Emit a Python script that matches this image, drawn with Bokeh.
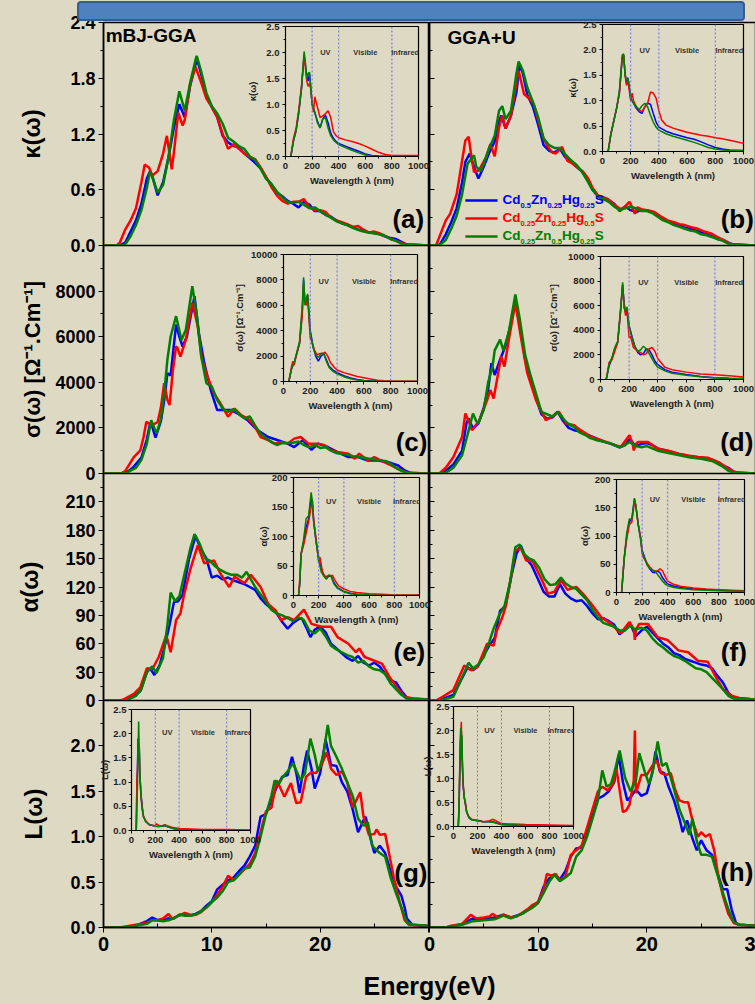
from bokeh.plotting import figure
from bokeh.models import (Range1d, LinearAxis, FixedTicker, PrintfTickFormatter,
                          Label, Span, Arrow, Div, Column)
from bokeh.embed import file_html
from bokeh.resources import INLINE

BG = "#DDD9C3"
FONT = "Liberation Sans"
BLUE, RED, GREEN = "#0000FF", "#FF0000", "#008000"

# ---------------- main panels: (energy eV, value) ----------------
# (a) kappa, mBJ-GGA
KAPPA_MBJ_BLUE = [(0,0),(1.5,0),(2.0,0.03),(2.5,0.15),(3.0,0.27),(3.5,0.45),(4.0,0.72),(4.3,0.80),(4.5,0.75),(5.0,0.54),(5.5,0.68),(6.0,0.95),(6.5,1.27),(7.0,1.52),(7.5,1.38),(8.0,1.72),(8.5,1.95),(8.7,1.98),(9.0,1.85),(9.5,1.62),(10.0,1.49),(10.5,1.38),(11.0,1.18),(11.5,1.11),(12.0,1.07),(12.5,1.06),(13.0,0.99),(13.5,0.94),(14.0,0.89),(14.5,0.83),(15.0,0.73),(15.5,0.66),(16.0,0.57),(16.5,0.53),(17.0,0.48),(17.5,0.45),(18.0,0.41),(18.5,0.47),(19.0,0.44),(19.5,0.37),(20.0,0.37),(20.5,0.33),(21.0,0.31),(21.5,0.27),(22.0,0.24),(22.5,0.22),(23.0,0.20),(23.5,0.17),(24.0,0.16),(24.5,0.14),(25.0,0.14),(25.5,0.12),(26.0,0.10),(26.5,0.08),(27.0,0.07),(27.5,0.04),(28.0,0.01),(30,0.0)]
KAPPA_MBJ_RED = [(0,0),(1.2,0),(1.5,0.03),(2.0,0.17),(2.5,0.27),(3.0,0.40),(3.5,0.68),(3.8,0.87),(4.2,0.84),(4.5,0.75),(5.0,0.80),(5.5,0.99),(5.85,1.18),(6.3,0.82),(6.5,1.00),(6.9,1.43),(7.3,1.29),(7.5,1.35),(8.0,1.74),(8.5,1.92),(9.0,1.76),(9.5,1.58),(10.0,1.49),(10.5,1.38),(11.0,1.20),(11.5,1.04),(12.0,1.09),(12.5,1.04),(13.0,0.99),(13.5,0.95),(14.0,0.93),(14.5,0.84),(15.0,0.74),(15.5,0.63),(16.0,0.54),(16.5,0.48),(17.0,0.45),(17.5,0.47),(18.0,0.47),(18.5,0.50),(19.0,0.41),(19.5,0.38),(20.0,0.38),(20.5,0.36),(21.0,0.30),(21.5,0.27),(22.0,0.25),(22.5,0.23),(23.0,0.20),(23.5,0.21),(24.0,0.17),(24.5,0.14),(25.0,0.15),(25.5,0.13),(26.0,0.10),(26.5,0.07),(27.0,0.05),(27.5,0.03),(28.0,0.01),(30,0.0)]
KAPPA_MBJ_GREEN = [(0,0),(1.8,0),(2.0,0.01),(2.5,0.10),(3.0,0.22),(3.5,0.38),(4.0,0.62),(4.3,0.80),(4.5,0.74),(5.0,0.57),(5.5,0.65),(6.0,0.95),(6.5,1.35),(7.0,1.66),(7.5,1.45),(8.0,1.75),(8.5,2.00),(8.6,2.04),(9.0,1.88),(9.5,1.64),(10.0,1.50),(10.5,1.42),(11.0,1.31),(11.5,1.16),(12.0,1.12),(12.5,1.07),(13.0,1.04),(13.5,0.96),(14.0,0.92),(14.5,0.83),(15.0,0.72),(15.5,0.66),(16.0,0.58),(16.5,0.52),(17.0,0.47),(17.5,0.46),(18.0,0.47),(18.5,0.44),(19.0,0.40),(19.5,0.41),(20.0,0.37),(20.5,0.33),(21.0,0.30),(21.5,0.26),(22.0,0.24),(22.5,0.22),(23.0,0.19),(23.5,0.17),(24.0,0.15),(24.5,0.14),(25.0,0.13),(25.5,0.12),(26.0,0.10),(26.5,0.07),(27.0,0.05),(27.5,0.02),(28.0,0.01),(30,0.0)]

# (b) kappa, GGA+U
KAPPA_U_BLUE = [(0,0),(0.8,0),(1.0,0.02),(1.5,0.12),(2.0,0.25),(2.5,0.40),(3.0,0.68),(3.3,0.90),(3.7,0.99),(4.0,0.88),(4.5,0.72),(5.0,0.85),(5.5,1.00),(6.0,1.12),(6.3,1.30),(6.6,1.40),(7.0,1.26),(7.5,1.40),(8.0,1.65),(8.3,1.95),(8.6,1.85),(9.0,1.62),(9.5,1.50),(10.0,1.30),(10.5,1.08),(11.0,1.02),(11.5,1.00),(12.0,1.04),(12.5,0.95),(13.0,0.90),(13.5,0.85),(14.0,0.80),(14.5,0.72),(15.0,0.60),(15.5,0.53),(16.0,0.50),(16.5,0.49),(17.0,0.45),(17.5,0.37),(18.0,0.42),(18.5,0.38),(19.0,0.36),(19.5,0.38),(20.0,0.38),(20.5,0.36),(21.0,0.33),(21.5,0.29),(22.0,0.26),(22.5,0.23),(23.0,0.22),(23.5,0.19),(24.0,0.18),(24.5,0.16),(25.0,0.14),(25.5,0.12),(26.0,0.10),(26.5,0.07),(27.0,0.06),(27.5,0.03),(28.0,0.01),(30,0.0)]
KAPPA_U_RED = [(0,0),(0.6,0),(1.0,0.12),(1.5,0.27),(1.9,0.34),(2.5,0.55),(2.9,0.84),(3.3,1.13),(3.6,1.17),(3.9,0.92),(4.1,0.79),(4.55,0.81),(5.2,0.95),(5.6,1.09),(6.0,0.96),(6.4,1.27),(6.7,1.40),(7.0,1.26),(7.5,1.40),(8.0,1.75),(8.2,1.88),(8.7,1.63),(9.2,1.58),(9.6,1.52),(10.0,1.35),(10.5,1.15),(10.9,1.06),(11.3,1.00),(11.6,0.99),(12.2,1.06),(12.7,0.91),(13.2,0.88),(13.6,0.84),(14.1,0.80),(14.6,0.72),(15.0,0.62),(15.5,0.54),(16.0,0.52),(16.4,0.50),(17.0,0.44),(17.6,0.39),(18.0,0.42),(18.4,0.47),(18.7,0.40),(18.9,0.34),(19.1,0.41),(19.5,0.39),(20.0,0.38),(20.7,0.36),(21.3,0.31),(21.9,0.27),(22.5,0.25),(23.0,0.23),(23.5,0.22),(24.0,0.20),(24.7,0.18),(25.3,0.15),(25.9,0.13),(26.5,0.09),(27.2,0.05),(27.8,0.01),(30,0.0)]
KAPPA_U_GREEN = [(0,0),(0.9,0),(1.0,0.01),(1.5,0.06),(2.0,0.18),(2.5,0.32),(3.0,0.55),(3.5,0.88),(4.1,0.97),(4.3,0.85),(4.7,0.80),(5.0,0.88),(5.5,1.05),(6.0,1.18),(6.4,1.45),(6.7,1.50),(7.0,1.36),(7.5,1.45),(8.0,1.85),(8.2,1.98),(8.6,1.88),(9.0,1.70),(9.5,1.55),(10.0,1.38),(10.5,1.15),(11.0,1.08),(11.5,1.05),(12.0,1.05),(12.5,0.98),(13.0,0.92),(13.5,0.87),(14.0,0.80),(14.5,0.70),(15.0,0.60),(15.5,0.53),(16.0,0.50),(16.5,0.47),(17.0,0.42),(17.5,0.38),(18.0,0.40),(18.5,0.42),(19.0,0.40),(19.5,0.37),(20.0,0.37),(20.5,0.35),(21.0,0.31),(21.5,0.27),(22.0,0.25),(22.5,0.22),(23.0,0.20),(23.5,0.18),(24.0,0.16),(24.5,0.15),(25.0,0.12),(25.5,0.11),(26.0,0.09),(26.5,0.07),(27.0,0.05),(27.5,0.02),(28.0,0.01),(30,0.0)]

# (c) sigma, mBJ-GGA
SIGMA_MBJ_BLUE = [(0,0),(1.9,0),(2.3,100),(2.8,300),(3.5,700),(4.0,1500),(4.3,2190),(4.5,2050),(4.8,1570),(5.3,2300),(5.6,3200),(5.9,4400),(6.2,4300),(6.4,5200),(6.7,6530),(7.0,6000),(7.3,5570),(7.7,6010),(8.4,7780),(8.8,6160),(9.3,4840),(9.9,3660),(10.5,2780),(11.1,2780),(11.8,2780),(12.4,2630),(13.3,2340),(14.2,1900),(15.2,1600),(16.1,1460),(17.0,1310),(17.6,1160),(18.4,1460),(19.2,1040),(19.8,1310),(20.7,1160),(21.6,940),(22.6,720),(23.5,720),(24.4,570),(25.3,570),(26.3,500),(27.2,350),(27.8,130),(28.4,20),(30,0)]
SIGMA_MBJ_RED = [(0,0),(1.6,0),(2.0,100),(2.8,720),(3.4,1015),(3.7,1600),(3.95,2260),(4.5,2120),(5.0,2260),(5.3,2900),(5.6,3960),(5.9,3220),(6.1,3000),(6.4,4500),(6.7,5570),(6.8,5540),(7.1,5130),(7.6,5870),(8.2,7490),(8.7,6460),(9.1,4990),(9.6,4250),(10.2,3510),(10.8,3070),(11.5,2490),(12.1,2850),(12.7,2560),(13.3,2410),(13.9,2120),(14.5,1600),(15.2,1460),(15.8,1310),(16.4,1380),(17.0,1310),(17.6,1530),(18.2,1600),(18.9,1310),(19.8,1310),(20.4,1240),(21.0,1010),(21.6,940),(22.6,870),(23.2,650),(23.6,870),(24.4,570),(25.0,720),(25.6,570),(26.6,350),(27.5,130),(28.1,30),(30,0)]
SIGMA_MBJ_GREEN = [(0,0),(2.0,0),(2.4,100),(3.0,250),(3.5,600),(4.0,1300),(4.4,2340),(4.9,1750),(5.3,2400),(5.6,3500),(5.9,5000),(6.2,6010),(6.7,6900),(7.2,5850),(7.6,6300),(8.2,8220),(8.6,7000),(9.0,5200),(9.5,3960),(10.0,3810),(10.5,3220),(11.0,2850),(11.5,2700),(12.0,2830),(12.5,2600),(13.0,2420),(13.5,2500),(14.0,2100),(14.5,1750),(15.0,1550),(15.5,1380),(16.0,1250),(16.5,1330),(17.0,1340),(17.5,1350),(18.0,1400),(18.5,1250),(19.0,1150),(19.5,1250),(20.0,1120),(20.5,1150),(21.0,1000),(21.5,900),(22.0,850),(22.5,820),(23.0,760),(23.5,720),(24.0,700),(24.5,650),(25.0,600),(25.5,580),(26.0,550),(26.5,420),(27.0,250),(27.5,120),(28.0,40),(28.5,10),(30,0)]

# (d) sigma, GGA+U
SIGMA_U_BLUE = [(0,0),(1.2,0),(2.2,400),(3.0,1000),(3.4,2200),(3.6,2410),(4.0,1970),(4.5,2200),(5.0,2900),(5.4,3700),(5.7,4840),(6.0,4320),(6.5,5000),(7.0,5600),(7.5,6600),(7.9,7500),(8.3,6500),(8.8,5000),(9.3,4100),(9.8,3300),(10.3,2600),(10.8,2410),(11.3,2450),(11.8,2700),(12.3,2300),(12.8,2000),(13.3,1900),(13.8,1850),(14.3,1750),(14.8,1650),(15.3,1550),(16.0,1400),(16.7,1300),(17.5,1150),(18.0,1250),(18.4,1500),(19.0,1200),(19.5,1300),(20.0,1330),(20.5,1250),(21.0,1100),(22.0,980),(23.0,850),(24.0,750),(25.0,700),(26.0,600),(27.0,350),(27.5,250),(28.0,80),(28.5,20),(30,0)]
SIGMA_U_RED = [(0,0),(0.9,0),(1.5,250),(2.2,720),(3.0,1600),(3.3,2630),(3.6,2300),(3.9,1900),(4.6,2340),(5.3,3220),(5.6,3660),(5.9,3290),(6.6,5130),(6.9,4690),(7.3,5870),(7.9,7490),(8.4,6010),(9.0,4400),(9.8,3220),(10.7,2340),(11.3,2490),(11.9,2710),(12.6,2190),(13.3,2120),(13.9,1900),(14.9,1600),(15.8,1460),(16.7,1310),(17.6,1160),(18.4,1680),(18.7,1300),(18.8,1010),(19.0,1300),(19.2,1380),(20.1,1380),(21.0,1090),(21.9,1010),(22.9,870),(23.8,790),(24.7,720),(25.6,690),(26.6,500),(27.5,210),(28.1,60),(30,0)]
SIGMA_U_GREEN = [(0,0),(1.4,0),(2.2,250),(3.0,800),(3.5,1700),(4.0,2630),(4.3,2300),(4.5,2200),(5.0,2800),(5.4,4000),(5.8,4700),(6.0,5400),(6.5,5870),(6.8,5400),(7.3,6200),(7.9,7850),(8.3,6800),(8.8,5200),(9.3,4300),(9.8,3500),(10.3,2700),(10.8,2600),(11.3,2500),(11.8,2710),(12.3,2400),(12.8,2150),(13.3,2050),(13.8,1800),(14.3,1700),(14.8,1550),(15.5,1450),(16.0,1400),(16.5,1350),(17.0,1250),(17.5,1150),(18.0,1250),(18.4,1380),(19.0,1200),(19.5,1150),(20.0,1200),(20.5,1100),(21.0,1000),(22.0,900),(23.0,800),(24.0,700),(25.0,650),(26.0,550),(27.0,300),(27.5,120),(28.0,40),(30,0)]

# (e) alpha, mBJ-GGA
ALPHA_MBJ_BLUE = [(0,0),(1.9,0),(2.8,4),(3.4,10),(4.0,30),(4.3,34),(4.7,27),(5.2,38),(5.7,60),(6.1,80),(6.5,104),(6.9,105),(7.3,112),(7.9,150),(8.5,174),(9.0,160),(9.5,150),(10.0,130),(10.5,132),(11.0,128),(11.5,130),(12.0,127),(12.5,125),(13.0,123),(13.5,120),(14.0,117),(14.5,108),(15.0,102),(15.5,97),(16.0,92),(16.5,83),(17.0,76),(17.5,82),(18.0,86),(18.3,87),(18.8,75),(19.1,67),(19.5,75),(20.0,78),(20.5,72),(21.0,60),(21.5,55),(22.0,50),(22.5,45),(23.0,42),(23.5,47),(24.0,40),(24.5,37),(25.0,40),(25.5,36),(26.0,28),(26.5,21),(27.0,19),(27.5,10),(28.0,3),(28.5,1),(30,1)]
ALPHA_MBJ_RED = [(0,0),(1.6,0),(2.0,2),(2.8,7),(3.4,14),(4.0,34),(4.5,33),(5.1,46),(5.8,69),(6.2,51),(6.7,85),(7.1,92),(7.4,110),(8.0,138),(8.7,164),(9.3,145),(10.2,148),(10.8,134),(11.6,120),(12.1,131),(13.0,124),(13.6,133),(14.5,120),(15.2,102),(15.9,95),(16.4,85),(17.0,88),(17.6,85),(18.5,96),(19.2,81),(20.1,78),(21.0,78),(21.6,67),(22.6,60),(23.3,51),(23.6,55),(24.1,46),(25.0,42),(25.7,39),(26.4,25),(27.2,12),(27.8,4),(28.7,2),(30,1)]
ALPHA_MBJ_GREEN = [(0,0),(2.1,0),(3.0,5),(3.5,12),(4.0,30),(4.5,36),(4.9,29),(5.5,45),(5.9,80),(6.2,114),(6.6,105),(7.0,110),(7.5,135),(8.0,160),(8.4,176),(8.9,165),(9.4,150),(9.8,148),(10.3,142),(10.8,138),(11.3,135),(11.8,133),(12.3,133),(12.8,130),(13.2,136),(13.6,128),(14.0,120),(14.5,112),(15.0,104),(15.5,96),(16.0,92),(16.5,90),(17.0,87),(17.5,84),(18.0,88),(18.5,85),(19.0,74),(19.5,71),(20.0,76),(20.5,68),(21.0,58),(21.5,54),(22.0,51),(22.5,48),(23.0,46),(23.5,40),(24.0,42),(24.5,36),(25.0,33),(25.5,32),(26.0,28),(26.5,18),(27.0,12),(27.5,6),(28.0,2),(30,1)]

# (f) alpha, GGA+U
ALPHA_U_BLUE = [(0,0),(0.8,0),(2.2,6),(3.5,35),(4.0,32),(4.5,37),(5.0,48),(5.5,58),(6.0,66),(6.5,95),(7.0,100),(7.5,130),(8.0,155),(8.4,164),(8.9,150),(9.4,143),(10.0,128),(10.5,115),(11.0,110),(11.5,110),(12.0,123),(12.5,113),(13.0,108),(13.5,105),(14.0,106),(14.5,100),(15.0,92),(15.5,86),(16.0,87),(16.5,84),(17.0,80),(17.5,70),(18.0,75),(18.5,80),(19.0,68),(19.5,74),(20.0,78),(20.5,72),(21.0,66),(21.5,60),(22.0,56),(22.5,50),(23.0,48),(23.5,44),(24.0,42),(24.5,40),(25.0,38),(25.5,37),(26.0,34),(26.5,26),(27.0,19),(27.5,8),(28.0,3),(30,1)]
ALPHA_U_RED = [(0,0),(0.6,0),(1.2,4),(2.2,11),(3.2,37),(3.8,32),(4.4,35),(5.3,60),(5.9,58),(6.2,74),(6.7,88),(7.0,99),(7.6,136),(7.9,159),(8.4,161),(8.9,148),(9.5,147),(10.2,131),(10.9,113),(11.5,115),(12.1,127),(12.7,117),(13.5,120),(14.1,113),(14.9,102),(15.8,88),(16.7,81),(17.6,71),(18.4,83),(18.8,75),(18.9,64),(19.0,75),(19.3,81),(20.1,81),(21.0,67),(21.9,64),(22.9,53),(23.8,51),(24.7,42),(25.6,41),(26.2,28),(27.0,12),(27.8,5),(28.7,2),(30,1)]
ALPHA_U_GREEN = [(0,0),(0.9,0),(2.2,4),(3.6,40),(4.0,34),(4.5,38),(5.0,46),(5.5,62),(5.9,76),(6.4,90),(6.9,100),(7.4,124),(7.9,162),(8.3,165),(8.7,155),(9.2,150),(9.6,148),(10.1,140),(10.6,128),(11.1,122),(11.6,123),(12.1,130),(12.5,124),(13.0,120),(13.5,118),(14.0,112),(14.5,106),(15.0,96),(15.5,88),(16.0,82),(16.5,80),(17.0,78),(17.5,74),(18.0,74),(18.4,79),(19.0,75),(19.5,77),(20.0,74),(20.5,66),(21.0,60),(21.5,56),(22.0,51),(22.5,47),(23.0,45),(23.5,42),(24.0,38),(24.5,34),(25.0,33),(25.5,30),(26.0,24),(26.5,18),(27.0,12),(27.5,5),(28.0,2),(30,1)]

# (g) loss, mBJ-GGA
LOSS_MBJ_BLUE = [(0,0),(1.8,0),(3.0,0.02),(4.0,0.07),(4.5,0.11),(5.0,0.08),(5.5,0.09),(6.0,0.10),(6.5,0.10),(7.0,0.14),(7.5,0.14),(8.0,0.13),(8.5,0.15),(9.0,0.18),(9.5,0.24),(10.0,0.29),(10.5,0.42),(11.0,0.47),(11.5,0.52),(12.0,0.55),(12.5,0.62),(13.0,0.68),(13.5,0.78),(14.0,0.90),(14.5,1.22),(15.0,1.25),(15.5,1.40),(16.0,1.55),(16.5,1.66),(17.0,1.68),(17.4,1.88),(17.8,1.70),(18.1,1.48),(18.5,1.78),(18.8,1.95),(19.2,1.75),(19.5,1.53),(20.0,1.70),(20.5,2.07),(21.0,1.79),(21.5,1.78),(22.0,1.60),(22.5,1.50),(23.0,1.30),(23.5,1.05),(24.0,1.18),(24.2,1.22),(24.5,1.05),(25.0,0.82),(25.5,0.90),(26.0,0.82),(26.5,0.62),(27.0,0.45),(27.5,0.35),(27.8,0.22),(28.0,0.10),(28.5,0.03),(30,0.01)]
LOSS_MBJ_RED = [(0,0),(1.5,0),(3.0,0.03),(4.0,0.05),(4.5,0.08),(5.0,0.08),(5.5,0.10),(6.0,0.15),(6.3,0.10),(7.0,0.13),(7.5,0.16),(8.0,0.14),(8.5,0.14),(9.0,0.17),(9.5,0.22),(10.0,0.28),(10.5,0.36),(11.0,0.45),(11.5,0.57),(12.0,0.52),(12.5,0.58),(13.0,0.64),(13.5,0.70),(14.0,0.82),(14.5,1.05),(15.0,1.28),(15.5,1.32),(16.0,1.62),(16.7,1.44),(17.3,1.59),(17.8,1.37),(18.2,1.38),(18.7,1.66),(19.2,1.71),(19.6,1.70),(20.1,1.78),(20.6,1.93),(21.0,1.75),(21.5,1.68),(22.0,1.72),(22.5,1.60),(23.0,1.32),(23.7,1.49),(24.0,1.22),(24.5,1.02),(25.0,1.03),(25.2,1.08),(25.5,1.02),(26.0,1.03),(26.3,0.85),(26.8,0.55),(27.3,0.30),(27.8,0.08),(28.2,0.03),(30,0.02)]
LOSS_MBJ_GREEN = [(0,0),(2.0,0),(3.0,0.02),(4.0,0.04),(4.5,0.08),(5.0,0.08),(5.5,0.07),(6.0,0.08),(6.5,0.10),(7.0,0.14),(7.5,0.13),(8.0,0.13),(8.5,0.14),(9.0,0.18),(9.5,0.22),(10.0,0.28),(10.5,0.33),(11.0,0.40),(11.5,0.50),(12.0,0.52),(12.5,0.58),(13.0,0.65),(13.5,0.66),(14.0,0.78),(14.5,1.00),(15.0,1.25),(15.5,1.45),(15.8,1.62),(16.2,1.58),(16.5,1.65),(17.0,1.72),(17.5,1.81),(18.2,1.62),(18.6,1.70),(19.1,2.08),(19.5,1.90),(19.8,1.72),(20.0,1.78),(20.3,1.90),(20.7,2.23),(21.0,2.00),(21.5,1.88),(22.0,1.75),(22.5,1.60),(23.0,1.45),(23.5,1.20),(24.0,1.12),(24.4,1.16),(24.8,0.90),(25.5,0.82),(26.0,0.78),(26.5,0.55),(27.0,0.38),(27.5,0.22),(28.0,0.06),(28.5,0.03),(30,0.02)]

# (h) loss, GGA+U
LOSS_U_BLUE = [(0,0),(1.5,0),(2.0,0.01),(3.0,0.04),(4.0,0.10),(5.0,0.09),(6.0,0.11),(6.8,0.14),(7.5,0.11),(8.5,0.15),(9.5,0.23),(10.0,0.28),(10.5,0.45),(11.0,0.54),(11.5,0.58),(12.0,0.53),(12.5,0.62),(13.0,0.78),(13.5,0.87),(14.0,0.88),(14.5,1.05),(15.0,1.25),(15.5,1.42),(16.0,1.45),(16.5,1.50),(17.0,1.60),(17.4,1.90),(17.8,1.60),(18.2,1.40),(18.6,1.45),(19.0,1.52),(19.5,1.45),(20.0,1.48),(20.5,1.70),(20.8,1.94),(21.2,1.72),(21.6,1.70),(22.0,1.55),(22.5,1.40),(23.0,1.20),(23.3,1.05),(23.7,1.18),(24.2,0.98),(24.6,0.85),(25.0,0.96),(25.5,0.85),(26.0,0.80),(26.5,0.60),(27.0,0.42),(27.4,0.42),(27.8,0.20),(28.2,0.05),(28.5,0.03),(30,0.02)]
LOSS_U_RED = [(0,0),(1.5,0),(2.0,0.02),(3.0,0.04),(3.8,0.14),(4.3,0.10),(5.0,0.11),(5.5,0.12),(5.8,0.15),(6.3,0.11),(6.8,0.14),(7.5,0.11),(8.0,0.12),(8.5,0.16),(9.0,0.20),(9.5,0.25),(10.0,0.28),(10.5,0.42),(10.8,0.59),(11.2,0.57),(11.6,0.59),(12.0,0.52),(12.5,0.56),(13.0,0.80),(13.5,0.85),(14.0,0.90),(14.5,1.10),(15.0,1.30),(15.5,1.50),(15.9,1.55),(16.4,1.51),(16.9,1.58),(17.2,1.75),(17.8,1.27),(18.1,1.29),(18.4,1.35),(18.8,1.62),(18.9,2.17),(19.0,1.48),(19.5,1.68),(20.0,1.68),(20.5,1.78),(20.9,1.84),(21.3,1.70),(21.8,1.68),(22.2,1.70),(22.6,1.52),(23.0,1.40),(23.4,1.38),(23.8,1.38),(24.2,1.18),(24.7,1.00),(25.0,1.05),(25.4,1.00),(25.8,1.03),(26.2,0.85),(26.6,0.55),(27.0,0.35),(27.5,0.15),(28.0,0.05),(28.5,0.03),(30,0.02)]
LOSS_U_GREEN = [(0,0),(1.5,0),(2.0,0.01),(3.0,0.03),(4.0,0.07),(5.0,0.08),(6.0,0.09),(6.8,0.13),(7.5,0.10),(8.5,0.15),(9.5,0.22),(10.0,0.27),(10.5,0.38),(11.0,0.50),(11.5,0.58),(12.0,0.51),(12.5,0.55),(13.0,0.60),(13.5,0.78),(14.0,0.85),(14.5,1.00),(15.0,1.20),(15.5,1.40),(15.9,1.73),(16.3,1.55),(16.7,1.58),(17.0,1.70),(17.5,1.95),(18.0,1.65),(18.5,1.50),(19.0,1.62),(19.3,1.92),(19.8,1.72),(20.2,1.58),(20.6,1.75),(21.0,2.05),(21.4,1.78),(21.8,1.81),(22.2,1.65),(22.6,1.48),(23.0,1.30),(23.5,1.15),(23.9,1.02),(24.2,1.20),(24.6,0.95),(25.0,0.80),(25.5,0.80),(26.0,0.78),(26.5,0.58),(27.0,0.38),(27.5,0.20),(28.0,0.06),(28.5,0.03),(30,0.02)]

# ---------------- insets: (wavelength nm, value) ----------------
IN_KAPPA_MBJ_BLUE = [(40,0),(60,0.3),(80,0.5),(100,0.85),(120,1.3),(140,1.95),(150,1.75),(160,1.55),(170,1.45),(180,1.6),(190,1.35),(200,1.0),(220,0.85),(240,0.68),(260,0.55),(280,0.72),(300,0.8),(320,0.65),(340,0.45),(360,0.35),(380,0.29),(400,0.25),(450,0.2),(500,0.15),(550,0.1),(600,0.05),(650,0.02),(700,0.01),(800,0.0),(1000,0.0)]
IN_KAPPA_MBJ_RED = [(40,0),(60,0.35),(80,0.55),(100,0.9),(120,1.35),(140,1.95),(150,1.7),(160,1.45),(170,1.35),(180,1.4),(190,1.3),(200,1.05),(210,0.85),(220,1.15),(240,0.95),(260,0.75),(280,0.78),(300,0.82),(320,0.88),(340,0.75),(360,0.48),(380,0.4),(400,0.36),(450,0.32),(500,0.29),(550,0.25),(600,0.2),(650,0.14),(700,0.08),(750,0.04),(800,0.02),(900,0.02),(1000,0.02)]
IN_KAPPA_MBJ_GREEN = [(40,0),(60,0.3),(80,0.5),(100,0.85),(120,1.3),(140,2.02),(150,1.8),(160,1.5),(170,1.6),(180,1.62),(190,1.3),(200,1.0),(220,0.85),(240,0.65),(260,0.55),(280,0.72),(300,0.75),(320,0.55),(340,0.4),(360,0.32),(380,0.27),(400,0.23),(450,0.17),(500,0.12),(550,0.07),(600,0.03),(650,0.01),(700,0.0),(1000,0.0)]

IN_KAPPA_U_BLUE = [(40,0),(60,0.35),(80,0.6),(100,0.85),(120,1.15),(140,1.85),(150,1.9),(160,1.55),(170,1.35),(180,1.45),(190,1.25),(200,1.05),(220,0.95),(240,0.85),(260,0.78),(280,0.75),(300,0.88),(320,0.95),(340,0.93),(360,0.75),(380,0.58),(400,0.48),(450,0.4),(500,0.35),(550,0.31),(600,0.27),(650,0.24),(700,0.19),(750,0.13),(800,0.08),(850,0.05),(900,0.03),(1000,0.02)]
IN_KAPPA_U_RED = [(40,0),(60,0.35),(80,0.6),(100,0.85),(120,1.15),(140,1.85),(150,1.9),(160,1.5),(170,1.3),(180,1.4),(190,1.2),(200,1.0),(210,1.15),(220,1.0),(240,0.88),(260,0.82),(280,0.78),(300,0.88),(320,0.95),(340,1.17),(360,1.15),(380,1.05),(400,0.8),(420,0.62),(450,0.52),(500,0.46),(550,0.42),(600,0.38),(650,0.35),(700,0.32),(750,0.3),(800,0.27),(850,0.25),(900,0.22),(950,0.19),(1000,0.16)]
IN_KAPPA_U_GREEN = [(40,0),(60,0.35),(80,0.6),(100,0.85),(120,1.2),(140,1.9),(150,1.92),(160,1.5),(170,1.4),(180,1.45),(190,1.3),(200,1.05),(220,0.95),(240,0.88),(260,0.82),(280,0.9),(300,0.95),(320,0.88),(340,0.72),(360,0.58),(380,0.48),(400,0.42),(450,0.35),(500,0.3),(550,0.26),(600,0.22),(650,0.18),(700,0.13),(750,0.08),(800,0.05),(850,0.03),(900,0.02),(1000,0.01)]

IN_SIGMA_MBJ_BLUE = [(40,0),(60,1000),(80,1500),(100,2200),(120,3000),(140,5500),(150,8000),(160,6200),(170,6300),(180,6800),(190,5500),(200,4000),(220,2800),(240,2000),(260,1600),(280,2000),(300,2200),(320,1700),(340,1200),(370,900),(400,700),(450,450),(500,280),(550,150),(600,80),(700,20),(800,0),(1000,0)]
IN_SIGMA_MBJ_RED = [(40,0),(60,1200),(70,1600),(80,1300),(100,2300),(120,3000),(140,5200),(150,7600),(160,6500),(170,6000),(180,6700),(190,5000),(200,3400),(210,3200),(230,2500),(250,2100),(270,2200),(290,2200),(310,2300),(330,2000),(350,1500),(380,1100),(400,900),(450,700),(500,550),(550,400),(600,300),(650,200),(700,100),(750,50),(800,30),(1000,20)]
IN_SIGMA_MBJ_GREEN = [(40,0),(60,1000),(80,1500),(100,2300),(120,3200),(140,6000),(150,8200),(160,6000),(170,6500),(180,6900),(190,5200),(200,3800),(220,2700),(240,2100),(260,1900),(280,2200),(300,2200),(320,1600),(340,1100),(370,800),(400,600),(450,380),(500,220),(550,120),(600,60),(700,10),(800,0),(1000,0)]

IN_SIGMA_U_BLUE = [(40,0),(60,1100),(80,1700),(100,2500),(120,3000),(140,5500),(155,7700),(165,6200),(175,5500),(185,5700),(200,4400),(220,3500),(240,2700),(260,2200),(280,2000),(300,2100),(320,2500),(340,2400),(360,2000),(380,1500),(400,1200),(450,800),(500,600),(600,400),(700,250),(800,150),(900,100),(1000,80)]
IN_SIGMA_U_RED = [(40,0),(60,1400),(80,1600),(100,2300),(120,3000),(140,5500),(155,7700),(165,6000),(175,5200),(185,5600),(200,3400),(210,3500),(230,2600),(260,2300),(280,2200),(300,2000),(320,2100),(340,2500),(360,2600),(380,2300),(400,1700),(450,1000),(500,800),(600,600),(700,450),(800,380),(900,300),(1000,200)]
IN_SIGMA_U_GREEN = [(40,0),(60,1200),(80,1800),(100,2600),(120,3100),(140,5700),(155,7900),(165,5800),(175,5600),(185,5900),(200,4300),(220,3400),(240,2700),(260,2300),(280,2400),(300,2700),(320,2500),(340,2100),(360,1700),(380,1300),(400,1000),(450,700),(500,500),(600,350),(700,220),(800,130),(900,90),(1000,60)]

IN_ALPHA_MBJ_BLUE = [(40,0),(50,20),(60,70),(80,90),(100,115),(120,130),(140,165),(150,155),(160,125),(180,90),(200,65),(220,45),(240,35),(260,28),(280,33),(300,32),(320,22),(350,13),(400,7),(450,4),(500,2),(600,1),(800,0),(1000,0)]
IN_ALPHA_MBJ_RED = [(40,0),(50,30),(60,70),(80,85),(100,105),(120,125),(140,150),(150,160),(160,130),(180,95),(200,55),(210,65),(230,40),(250,32),(270,33),(290,34),(310,34),(330,25),(360,16),(400,11),(450,7),(500,5),(600,3),(700,2),(800,1),(1000,1)]
IN_ALPHA_MBJ_GREEN = [(40,0),(50,20),(60,70),(80,95),(100,130),(120,135),(140,175),(150,160),(160,125),(180,90),(200,60),(220,40),(240,33),(260,28),(280,35),(300,32),(320,20),(350,12),(400,6),(450,3),(500,2),(600,1),(800,0),(1000,0)]

IN_ALPHA_U_BLUE = [(40,0),(50,30),(60,60),(80,100),(100,125),(120,130),(140,165),(150,155),(170,120),(190,95),(200,75),(220,62),(240,50),(260,42),(280,36),(300,35),(320,38),(340,35),(360,26),(380,20),(400,15),(450,11),(500,9),(600,6),(700,5),(800,4),(1000,2)]
IN_ALPHA_U_RED = [(40,0),(50,30),(60,60),(80,95),(100,120),(120,125),(140,160),(150,155),(170,120),(190,95),(200,70),(210,62),(230,55),(260,45),(290,38),(320,38),(340,42),(360,38),(380,28),(400,20),(450,14),(500,11),(600,8),(700,6),(800,5),(900,4),(1000,3)]
IN_ALPHA_U_GREEN = [(40,0),(50,30),(60,60),(80,105),(100,130),(120,130),(140,167),(150,155),(170,120),(190,90),(200,72),(220,60),(240,48),(260,42),(280,40),(300,38),(320,32),(340,26),(360,20),(380,15),(400,12),(450,9),(500,7),(600,5),(700,4),(800,3),(1000,2)]

IN_LOSS_MBJ_BLUE = [(40,0),(45,0.9),(50,1.3),(55,1.9),(60,1.6),(65,1.75),(70,1.2),(80,0.75),(90,0.5),(100,0.3),(120,0.18),(150,0.12),(200,0.09),(230,0.08),(260,0.09),(280,0.1),(300,0.08),(350,0.04),(400,0.02),(500,0.01),(800,0.0),(1000,0.0)]
IN_LOSS_MBJ_RED = [(40,0),(45,1.0),(50,1.2),(55,1.8),(60,1.45),(65,1.65),(70,1.1),(80,0.7),(90,0.45),(100,0.3),(120,0.2),(150,0.12),(200,0.1),(210,0.14),(230,0.1),(260,0.1),(280,0.12),(300,0.1),(350,0.06),(400,0.04),(500,0.03),(600,0.02),(800,0.02),(1000,0.01)]
IN_LOSS_MBJ_GREEN = [(40,0),(45,0.5),(50,0.9),(55,1.5),(60,2.25),(63,1.9),(67,1.6),(70,1.2),(80,0.7),(90,0.45),(100,0.28),(120,0.18),(150,0.12),(200,0.09),(230,0.08),(260,0.1),(280,0.11),(300,0.08),(350,0.04),(400,0.02),(500,0.01),(800,0.0),(1000,0.0)]

IN_LOSS_U_BLUE = [(40,0),(45,0.3),(50,0.8),(55,1.4),(60,1.8),(65,2.0),(70,1.7),(75,1.2),(80,0.85),(90,0.6),(100,0.45),(110,0.3),(130,0.18),(150,0.14),(200,0.12),(250,0.1),(300,0.1),(330,0.1),(350,0.08),(400,0.04),(500,0.03),(600,0.02),(800,0.01),(1000,0.01)]
IN_LOSS_U_RED = [(40,0),(45,0.3),(50,0.9),(55,1.6),(60,1.95),(65,2.18),(70,1.6),(75,1.2),(80,0.9),(90,0.6),(100,0.5),(110,0.3),(130,0.2),(150,0.15),(200,0.13),(250,0.1),(300,0.12),(330,0.15),(350,0.12),(400,0.06),(500,0.05),(600,0.04),(800,0.03),(1000,0.02)]
IN_LOSS_U_GREEN = [(40,0),(45,0.4),(50,1.0),(55,1.7),(60,2.05),(65,1.4),(70,1.9),(75,1.3),(80,0.9),(90,0.6),(100,0.45),(110,0.3),(130,0.18),(150,0.14),(200,0.12),(250,0.1),(300,0.1),(330,0.09),(350,0.07),(400,0.04),(500,0.03),(600,0.02),(800,0.01),(1000,0.01)]

# ---------------- texts / ticks ----------------
COMPOUNDS = [
    [("Cd", 0), ("0.5", 1), ("Zn", 0), ("0.25", 1), ("Hg", 0), ("0.25", 1), ("S", 0)],
    [("Cd", 0), ("0.25", 1), ("Zn", 0), ("0.25", 1), ("Hg", 0), ("0.5", 1), ("S", 0)],
    [("Cd", 0), ("0.25", 1), ("Zn", 0), ("0.5", 1), ("Hg", 0), ("0.25", 1), ("S", 0)],
]
Y_LABELS = ["κ(ω)", "σ(ω) [Ω⁻¹.Cm⁻¹]", "α(ω)", "L(ω)"]
X_TITLE = "Energy(eV)"
Y_MAX = [2.4, 10000, 240, 2.5]
Y_TICKS = [[0, 0.6, 1.2, 1.8, 2.4], [0, 2000, 4000, 6000, 8000],
           [0, 30, 60, 90, 120, 150, 180, 210], [0, 0.5, 1.0, 1.5, 2.0]]
Y_MINOR = [[0.3, 0.9, 1.5, 2.1], [1000, 3000, 5000, 7000, 9000],
           [15, 45, 75, 105, 135, 165, 195, 225], [0.25, 0.75, 1.25, 1.75, 2.25]]
Y_FMT = ["%.1f", "%d", "%d", "%.1f"]
IN_Y_TICKS = [[0, 0.5, 1.0, 1.5, 2.0, 2.5], [0, 2000, 4000, 6000, 8000, 10000],
              [0, 50, 100, 150, 200], [0, 0.5, 1.0, 1.5, 2.0, 2.5]]
IN_Y_MINOR = [[0.25, 0.75, 1.25, 1.75, 2.25], [1000, 3000, 5000, 7000, 9000],
              [25, 75, 125, 175], [0.25, 0.75, 1.25, 1.75, 2.25]]
IN_Y_MAX = [2.5, 10000, 200, 2.5]
X_TICKS = [0, 10, 20, 30]
X_MINOR = [5, 15, 25]
LAMBDA_TICKS = [0, 200, 400, 600, 800, 1000]
LAMBDA_MINOR = [100, 300, 500, 700, 900]
REGION_LINES = [200, 400, 800]
REGIONS = [("UV", 300), ("Visible", 600), ("Infrared", 900)]
TAGS = [["(a)", "(b)"], ["(c)", "(d)"], ["(e)", "(f)"], ["(g)", "(h)"]]

MAIN = [
    [[KAPPA_MBJ_BLUE, KAPPA_MBJ_RED, KAPPA_MBJ_GREEN], [KAPPA_U_BLUE, KAPPA_U_RED, KAPPA_U_GREEN]],
    [[SIGMA_MBJ_BLUE, SIGMA_MBJ_RED, SIGMA_MBJ_GREEN], [SIGMA_U_BLUE, SIGMA_U_RED, SIGMA_U_GREEN]],
    [[ALPHA_MBJ_BLUE, ALPHA_MBJ_RED, ALPHA_MBJ_GREEN], [ALPHA_U_BLUE, ALPHA_U_RED, ALPHA_U_GREEN]],
    [[LOSS_MBJ_BLUE, LOSS_MBJ_RED, LOSS_MBJ_GREEN], [LOSS_U_BLUE, LOSS_U_RED, LOSS_U_GREEN]],
]
INSETS = [
    [[IN_KAPPA_MBJ_BLUE, IN_KAPPA_MBJ_RED, IN_KAPPA_MBJ_GREEN], [IN_KAPPA_U_BLUE, IN_KAPPA_U_RED, IN_KAPPA_U_GREEN]],
    [[IN_SIGMA_MBJ_BLUE, IN_SIGMA_MBJ_RED, IN_SIGMA_MBJ_GREEN], [IN_SIGMA_U_BLUE, IN_SIGMA_U_RED, IN_SIGMA_U_GREEN]],
    [[IN_ALPHA_MBJ_BLUE, IN_ALPHA_MBJ_RED, IN_ALPHA_MBJ_GREEN], [IN_ALPHA_U_BLUE, IN_ALPHA_U_RED, IN_ALPHA_U_GREEN]],
    [[IN_LOSS_MBJ_BLUE, IN_LOSS_MBJ_RED, IN_LOSS_MBJ_GREEN], [IN_LOSS_U_BLUE, IN_LOSS_U_RED, IN_LOSS_U_GREEN]],
]

# ---------------- layout (pixels) ----------------
ROW_TOP = [22, 245, 473, 700]
ROW_BOT = [245, 473, 700, 927]
COL_LEFT = [103, 429]
COL_W = [325, 326]
MBL = 103   # identical left border for every figure (the column aligns them)
MBR = 20    # identical right border for every figure
YLABEL_STANDOFF = [22, 7, 19, 20]
YLABEL_SIZE = ["24px", "22px", "24px", "24px"]
INSET_BOX = [[(285, 26, 418, 156), (602, 24, 743, 151)],
             [(283, 254, 417, 381), (600, 256, 743, 379)],
             [(293, 477, 419, 595), (616, 479, 744, 592)],
             [(131, 709, 250, 830), (453, 706, 573, 826)]]
INSET_YLABEL_STANDOFF = [[5, 2], [3, 6], [0, 2], [0, 0]]
INSET_TICKLABEL_STANDOFF = [[3, 3], [3, 3], [3, 3], [2, 1]]
REGION_Y = [[2.0, 1.98], [7900, 7850], [160, 165], [2.02, 2.0]]
TAG_POS = [[(29.6, 0.29), (29.85, 0.28)], [(29.9, 1370), (29.8, 1370)],
           [(29.7, 51), (29.2, 51)], [(29.9, 0.60), (29.8, 0.61)]]

CW = {"C": 0.722, "d": 0.611, "Z": 0.611, "n": 0.611, "H": 0.722, "g": 0.611,
      "S": 0.667, "0": 0.556, "2": 0.556, "5": 0.556, ".": 0.278}


def pos(x, y):
    return {"position": "absolute", "left": f"{x}px", "top": f"{y}px"}


def style_axis(ax, tick_size, label_size):
    ax.major_label_text_font = FONT
    ax.major_label_text_font_style = "bold"
    ax.major_label_text_font_size = tick_size
    ax.major_label_text_color = "black"
    ax.axis_label_text_font = FONT
    ax.axis_label_text_font_style = "bold"
    ax.axis_label_text_font_size = label_size
    ax.axis_label_text_color = "black"
    ax.axis_line_color = "black"
    ax.major_tick_line_color = "black"
    ax.minor_tick_line_color = "black"


def draw_series(p, series, lw):
    for pts, c in zip(series, [BLUE, RED, GREEN]):
        p.line([a for a, _ in pts], [b for _, b in pts], line_color=c, line_width=lw)


children = []
for r in range(4):
    for c in range(2):
        left = c == 0
        mbt = 10 if r == 0 else 0
        mbb = 1004 - ROW_BOT[r] if r == 3 else 12
        p = figure(frame_width=COL_W[c], frame_height=ROW_BOT[r] - ROW_TOP[r],
                   x_range=Range1d(0, 30), y_range=Range1d(0, Y_MAX[r]),
                   x_axis_location=None, y_axis_location=None,
                   output_backend="svg", toolbar_location=None,
                   min_border_left=MBL, min_border_right=MBR,
                   min_border_top=mbt, min_border_bottom=mbb,
                   background_fill_color=BG, border_fill_alpha=0,
                   outline_line_color="black", outline_line_width=1.5,
                   styles=pos(COL_LEFT[c] - MBL, ROW_TOP[r] - mbt))
        p.grid.grid_line_color = None
        ya = LinearAxis(ticker=FixedTicker(ticks=Y_TICKS[r], minor_ticks=Y_MINOR[r]),
                        formatter=PrintfTickFormatter(format=Y_FMT[r]))
        style_axis(ya, "18px", YLABEL_SIZE[r])
        ya.axis_line_width = 1.5
        if left:
            ya.axis_label = Y_LABELS[r]
            ya.axis_label_standoff = YLABEL_STANDOFF[r]
            ya.major_label_standoff = 3
            ya.major_tick_out = 5
            ya.major_tick_in = 0
            ya.minor_tick_out = 3
            ya.minor_tick_in = 0
        else:
            ya.major_label_overrides = {t: "" for t in Y_TICKS[r]}
            ya.major_label_standoff = 0
            ya.major_tick_out = 0
            ya.major_tick_in = 5
            ya.minor_tick_out = 0
            ya.minor_tick_in = 3
        p.add_layout(ya, "left")
        if r == 3:
            xa = LinearAxis(ticker=FixedTicker(ticks=X_TICKS, minor_ticks=X_MINOR))
            style_axis(xa, "20px", "25px")
            xa.major_tick_out = 5
            xa.major_tick_in = 0
            xa.minor_tick_out = 0
            xa.minor_tick_in = 4
            xa.major_label_standoff = 4
            xa.axis_line_width = 1.5
            if left:
                xa.major_label_overrides = {30: ""}
            p.add_layout(xa, "below")
        draw_series(p, MAIN[r][c], 2.5)
        tx, ty = TAG_POS[r][c]
        p.add_layout(Label(x=tx, y=ty, text=TAGS[r][c], text_font=FONT,
                           text_font_style="bold", text_font_size="26px",
                           text_align="right", text_baseline="middle",
                           text_color="black"))
        if r == 0 and left:
            p.add_layout(Label(x=0.2, y=2.26, text="mBJ-GGA", text_font=FONT,
                               text_font_style="bold", text_font_size="19px",
                               text_baseline="middle", text_color="black"))
        if r == 0 and not left:
            p.add_layout(Label(x=1.66, y=2.24, text="GGA+U", text_font=FONT,
                               text_font_style="bold", text_font_size="19px",
                               text_baseline="middle", text_color="black"))
            for ly, col, parts in zip([0.484, 0.29, 0.097], [BLUE, RED, GREEN], COMPOUNDS):
                p.add_layout(Arrow(end=None, x_start=3.3, y_start=ly, x_end=6.26, y_end=ly,
                                   line_color=col, line_width=2.5))
                off = 0.0
                for txt, sub in parts:
                    size = 7.5 if sub else 13.5
                    p.add_layout(Label(x=6.72, y=ly - 0.055 if sub else ly + 0.015,
                                       x_offset=off, text=txt, text_font=FONT,
                                       text_font_style="bold", text_font_size=f"{size}px",
                                       text_color=col, text_baseline="middle",
                                       text_align="left"))
                    off += sum(CW[ch] for ch in txt) * size
        children.append(p)

# shared x-axis title spanning both columns (transparent overlay)
ov = figure(frame_width=632, frame_height=60, x_range=Range1d(0, 60), y_range=Range1d(0, 1),
            x_axis_location=None, y_axis_location=None,
            output_backend="svg", toolbar_location=None,
            min_border_left=MBL, min_border_right=MBR, min_border_top=0,
            min_border_bottom=0,
            background_fill_alpha=0, border_fill_alpha=0, outline_line_color=None,
            styles=pos(103 - MBL, 955))
ov.grid.grid_line_color = None
ov.add_layout(Label(x=30.95, y=0.5, text=X_TITLE, text_font=FONT, text_font_style="bold",
                    text_font_size="25px", text_align="center", text_baseline="middle",
                    text_color="black"))
children.append(ov)

# insets
IT, IB = 8, 40
for r in range(4):
    for c in range(2):
        L, T, R, B = INSET_BOX[r][c]
        q = figure(frame_width=R - L, frame_height=B - T,
                   x_range=Range1d(0, 1000), y_range=Range1d(0, IN_Y_MAX[r]),
                   x_axis_location=None, y_axis_location=None,
                   output_backend="svg", toolbar_location=None,
                   min_border_left=MBL, min_border_right=MBR,
                   min_border_top=IT, min_border_bottom=IB,
                   background_fill_alpha=0, border_fill_alpha=0,
                   outline_line_color="black", outline_line_width=1.2,
                   styles=pos(L - MBL, T - IT))
        q.grid.grid_line_color = None
        xa = LinearAxis(ticker=FixedTicker(ticks=LAMBDA_TICKS, minor_ticks=LAMBDA_MINOR),
                        axis_label="Wavelength λ (nm)")
        ya = LinearAxis(ticker=FixedTicker(ticks=IN_Y_TICKS[r], minor_ticks=IN_Y_MINOR[r]),
                        formatter=PrintfTickFormatter(format=Y_FMT[r]),
                        axis_label=Y_LABELS[r])
        for a in (xa, ya):
            style_axis(a, "9.5px", "9.5px")
            a.major_label_text_color = "#222222"
            a.axis_label_text_color = "#222222"
            a.major_label_standoff = 3
            a.axis_label_standoff = 3
            a.major_tick_out = 3
            a.major_tick_in = 0
            a.minor_tick_out = 2
            a.minor_tick_in = 0
        ya.axis_label_standoff = INSET_YLABEL_STANDOFF[r][c]
        ya.major_label_standoff = INSET_TICKLABEL_STANDOFF[r][c]
        q.add_layout(xa, "below")
        q.add_layout(ya, "left")
        for loc in REGION_LINES:
            q.add_layout(Span(location=loc, dimension="height", line_color="#6a6af0",
                              line_dash="2 2", line_width=1))
        for txt, xx in REGIONS:
            q.add_layout(Label(x=xx, y=REGION_Y[r][c], text=txt, text_font=FONT,
                               text_font_style="bold", text_font_size="7.5px",
                               text_align="center", text_baseline="middle",
                               text_color="#333333"))
        draw_series(q, INSETS[r][c], 1.5)
        children.append(q)

banner = Div(text="", width=668, height=20,
             styles={**pos(72, -4), "background-color": "#4F81BD",
                     "border": "2px solid #385D8A", "border-radius": "4px",
                     "box-sizing": "border-box"})

root = Column(children=children + [banner], width=755, height=1004,
              sizing_mode="fixed",
              styles={"position": "relative", "background-color": BG,
                      "width": "755px", "height": "1004px", "overflow": "hidden"})

open("out.html", "w").write(file_html(root, INLINE))
